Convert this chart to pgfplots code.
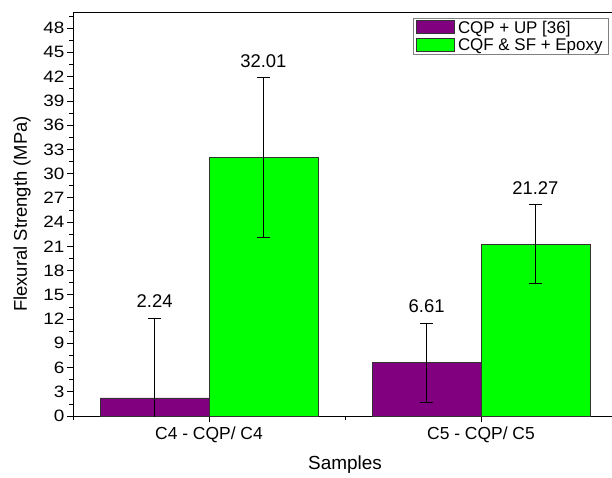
\documentclass[border=0pt]{standalone}
\usepackage{pgfplots}
\pgfplotsset{compat=1.18}
\usepackage{fontspec}
\setmainfont{Liberation Sans}
\newfontfamily\widefont[FakeStretch=1.15]{Liberation Sans}
\definecolor{barpurple}{HTML}{800080}
\definecolor{bargreen}{HTML}{00FF00}
\begin{document}
\begin{tikzpicture}
\useasboundingbox (-73bp,-62bp) rectangle (539bp,416bp);
\begin{axis}[
  at={(0,0)}, anchor=south west,
  scale only axis,
  width=571.2bp, height=404bp,
  xmin=0.5, xmax=2.6,
  ymin=0, ymax=50,
  ybar=0pt, bar width=0.4,
  xtick={1,2},
  xticklabels={C4 - CQP/ C4, C5 - CQP/ C5},
  minor xtick={0.5,1.5,2.5},
  ytick={0,3,...,48},
  minor ytick={1.5,4.5,...,49.5},
  tick align=outside,
  xtick pos=bottom, ytick pos=left,
  major tick length=6bp, minor tick length=3.5bp,
  every tick/.style={black, line width=0.7pt},
  axis line style={line width=0.9pt},
  /pgf/number format/assume math mode=true,
  yticklabel style={font=\widefont\fontsize{16.5}{18}\selectfont, xshift=1bp},
  xticklabel style={font=\fontsize{17.5}{19}\selectfont, yshift=-1bp},
  xlabel={Samples},
  ylabel={Flexural Strength (MPa)},
  xlabel style={font=\fontsize{19}{21}\selectfont, at={(axis description cs:0.4762,-0.121)}, anchor=center},
  ylabel style={font=\fontsize{18.5}{20}\selectfont, at={(axis description cs:-0.0893,0.5)}, anchor=center},
  legend style={at={(0.938,0.985)}, anchor=north east, draw=gray, line width=0.6pt,
    font=\fontsize{17}{19}\selectfont, inner xsep=3bp, inner ysep=2bp, row sep=2.5bp,
    nodes={inner xsep=3bp, inner ysep=0bp}},
  legend cell align=left,
  clip=true,
]
\addplot[fill=barpurple, draw=black!80, line width=0.6pt,
  legend image code/.code={\draw[fill=barpurple, draw=black!80, line width=0.6pt] (0bp,-5.5bp) rectangle (38bp,7.5bp);},
  error bars/.cd, y dir=both, y explicit,
  error bar style={black, line width=0.8pt},
  error mark options={rotate=90, mark size=6.5bp, black, line width=0.8pt}]
  coordinates {(1,2.24) +- (0,9.9) (2,6.61) +- (0,4.9)};
\addlegendentry{CQP + UP [36]}
\addplot[fill=bargreen, draw=black!80, line width=0.6pt,
  legend image code/.code={\draw[fill=bargreen, draw=black!80, line width=0.6pt] (0bp,-5.5bp) rectangle (38bp,7.5bp);},
  error bars/.cd, y dir=both, y explicit,
  error bar style={black, line width=0.8pt},
  error mark options={rotate=90, mark size=6.5bp, black, line width=0.8pt}]
  coordinates {(1,32.01) +- (0,9.9) (2,21.27) +- (0,4.87)};
\addlegendentry{CQF \& SF + Epoxy}
\node[anchor=base, font=\fontsize{18.5}{20}\selectfont] at (axis cs:0.8,12.14) [yshift=10bp] {2.24};
\node[anchor=base, font=\fontsize{18.5}{20}\selectfont] at (axis cs:1.2,41.91) [yshift=10bp] {32.01};
\node[anchor=base, font=\fontsize{18.5}{20}\selectfont] at (axis cs:1.8,11.51) [yshift=10bp] {6.61};
\node[anchor=base, font=\fontsize{18.5}{20}\selectfont] at (axis cs:2.2,26.14) [yshift=10bp] {21.27};
\end{axis}
\end{tikzpicture}
\end{document}
